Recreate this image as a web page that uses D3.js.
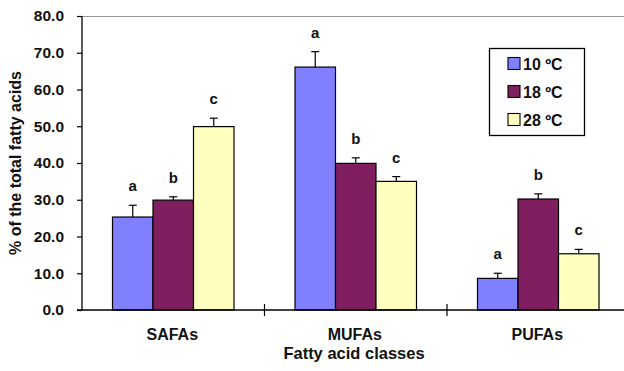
<!DOCTYPE html>
<html>
<meta charset="utf-8">
<style>
body { margin: 0; background: #fff; }
text { font-family: "Liberation Sans", Arial, sans-serif; font-weight: bold; fill: #111; }
</style>
<body>
<script src="https://d3js.org/d3.v7.min.js"></script>
<script>
// data
var classes = ["SAFAs", "MUFAs", "PUFAs"];
var temps = ["10 \u00baC", "18 \u00baC", "28 \u00baC"];
var colors = ["#8080FF", "#7F1F5F", "#FFFFC0"];
var values = [[25.3, 29.9, 49.9], [66.1, 39.9, 35.0], [8.6, 30.2, 15.3]];
var errs = [[3.2, 0.9, 2.3], [4.2, 1.5, 1.3], [1.4, 1.4, 1.2]];
var letters = [["a", "b", "c"], ["a", "b", "c"], ["a", "b", "c"]];
var yTicks = [0, 10, 20, 30, 40, 50, 60, 70, 80];

var W = 624, H = 371;
var svg = d3.select("body").append("svg").attr("width", W).attr("height", H);

var x0 = d3.scaleBand().domain(classes).range([82, 629.5]).paddingInner(0).paddingOuter(0);
var x1 = d3.scaleBand().domain(d3.range(3)).range([30.5, x0.bandwidth() - 30.5]);
var y = d3.scaleLinear().domain([0, 80]).range([310, 16]);

// top border of plot area
svg.append("line").attr("x1", 82).attr("x2", W).attr("y1", 16.5).attr("y2", 16.5)
  .attr("stroke", "#999").attr("stroke-width", 1);

// bars
var rows = [];
classes.forEach(function(c, i) {
  temps.forEach(function(t, j) {
    rows.push({c: c, j: j, v: values[i][j], e: errs[i][j], l: letters[i][j]});
  });
});

var g = svg.append("g");
g.selectAll("rect.bar").data(rows).enter().append("rect")
  .attr("x", d => x0(d.c) + x1(d.j))
  .attr("y", d => y(d.v))
  .attr("width", x1.bandwidth())
  .attr("height", d => y(0) - y(d.v))
  .attr("fill", d => colors[d.j])
  .attr("stroke", "#000").attr("stroke-width", 1.2);

// error bars (upper only)
var eb = g.selectAll("g.err").data(rows).enter().append("g");
eb.append("line")
  .attr("x1", d => x0(d.c) + x1(d.j) + x1.bandwidth() / 2)
  .attr("x2", d => x0(d.c) + x1(d.j) + x1.bandwidth() / 2)
  .attr("y1", d => y(d.v)).attr("y2", d => y(d.v + d.e))
  .attr("stroke", "#000").attr("stroke-width", 1.2);
eb.append("line")
  .attr("x1", d => x0(d.c) + x1(d.j) + x1.bandwidth() / 2 - 4)
  .attr("x2", d => x0(d.c) + x1(d.j) + x1.bandwidth() / 2 + 4)
  .attr("y1", d => y(d.v + d.e)).attr("y2", d => y(d.v + d.e))
  .attr("stroke", "#000").attr("stroke-width", 1.2);

// significance letters
g.selectAll("text.let").data(rows).enter().append("text")
  .attr("x", d => x0(d.c) + x1(d.j) + x1.bandwidth() / 2)
  .attr("y", d => y(d.v + d.e) - 14)
  .attr("text-anchor", "middle")
  .style("font-size", "15px")
  .text(d => d.l);

// y axis
var yAxis = svg.append("g").attr("transform", "translate(82,0)")
  .call(d3.axisLeft(y).tickValues(yTicks).tickSize(5).tickFormat(d3.format(".1f")));
yAxis.select(".domain").attr("stroke", "#000").attr("stroke-width", 1.3).attr("d", "M0,16V310");
yAxis.selectAll(".tick line").attr("stroke", "#000").attr("stroke-width", 1.2);
yAxis.selectAll(".tick text").attr("x", -18).style("font-size", "15.5px")
  .style("font-family", "'Liberation Sans', Arial, sans-serif").style("font-weight", "bold").attr("fill", "#111");

// x axis
svg.append("line").attr("x1", 77).attr("x2", W).attr("y1", 310).attr("y2", 310)
  .attr("stroke", "#000").attr("stroke-width", 1.3);
svg.selectAll("line.xt").data(classes.slice(1)).enter().append("line")
  .attr("x1", d => x0(d)).attr("x2", d => x0(d))
  .attr("y1", 304).attr("y2", 316)
  .attr("stroke", "#000").attr("stroke-width", 1.2);
svg.selectAll("text.xl").data(classes).enter().append("text")
  .attr("x", d => x0(d) + x0.bandwidth() / 2 - 1)
  .attr("y", 339.5)
  .attr("text-anchor", "middle")
  .style("font-size", "16px")
  .text(d => d);

// axis titles
svg.append("text").attr("x", 354).attr("y", 358.5).attr("text-anchor", "middle")
  .style("font-size", "16.5px").text("Fatty acid classes");
svg.append("text").attr("transform", "translate(21,163) rotate(-90)").attr("text-anchor", "middle")
  .style("font-size", "16px").text("% of the total fatty acids");

// legend
var lg = svg.append("g").attr("transform", "translate(489,48)");
lg.append("rect").attr("x", 0.5).attr("y", 0.5).attr("width", 95).attr("height", 87)
  .attr("fill", "#fff").attr("stroke", "#000").attr("stroke-width", 1.3);
var li = lg.selectAll("g.li").data(temps).enter().append("g")
  .attr("transform", (d, i) => "translate(19," + (15.5 + i * 28) + ")");
li.append("rect").attr("x", 0).attr("y", -6).attr("width", 12).attr("height", 12)
  .attr("fill", (d, i) => colors[i]).attr("stroke", "#000").attr("stroke-width", 1.1);
li.append("text").attr("x", 15).attr("y", 6).style("font-size", "16px").text(d => d);
</script>
</body>
</html>
